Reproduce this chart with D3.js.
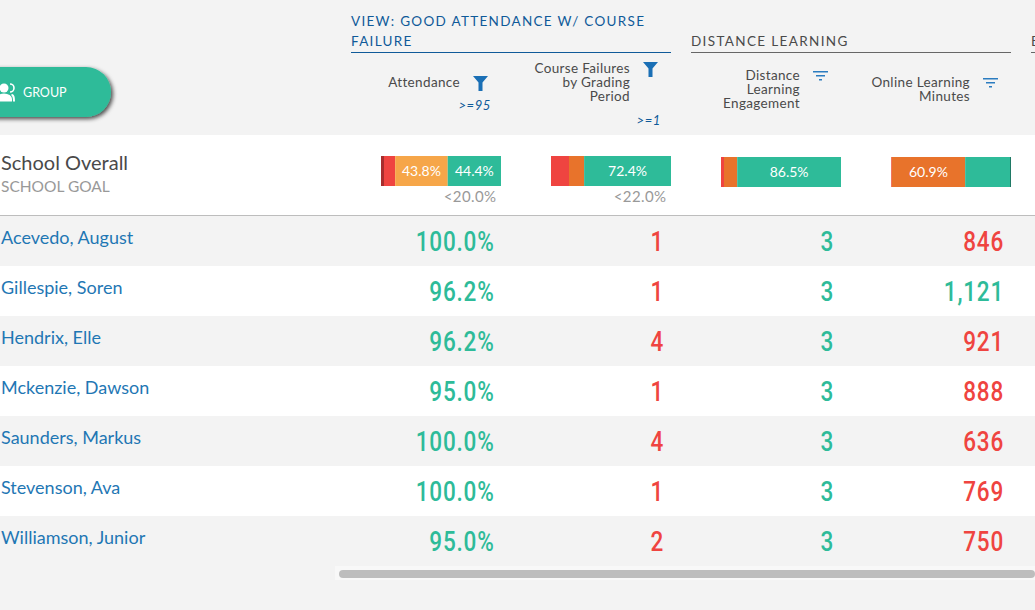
<!DOCTYPE html>
<html><head><meta charset="utf-8">
<script src="https://cdn.jsdelivr.net/npm/d3@7/dist/d3.min.js"></script>
<style>html,body{margin:0;padding:0;background:#f3f3f3;overflow:hidden}svg{display:block;font-family:Lato,sans-serif}</style>
</head><body><svg id="c" width="1035" height="610"></svg>
<script>
const students=["Acevedo, August","Gillespie, Soren","Hendrix, Elle","Mckenzie, Dawson","Saunders, Markus","Stevenson, Ava","Williamson, Junior"];
const attendance=["100.0%","96.2%","96.2%","95.0%","100.0%","100.0%","95.0%"];
const courseFailures=["1","1","4","1","4","1","2"];
const engagement=["3","3","3","3","3","3","3"];
const minutes=["846","1,121","921","888","636","769","750"];
const minutesGood=[false,true,false,false,false,false,false];
const failuresColor="#ef4440", goodColor="#2ebb99";
const attendanceShares=[2.5,9.3,43.8,44.4];
const failureShares=[15,12.6,72.4];
const engagementShares=[2.5,11,86.5];
const minutesShares=[0.6,61.2,37.4,0.8];
const attendanceColors=["#a82d2d","#ef4440","#f6a649","#2ebb99"];
const failureColors=["#ef4440","#e8732b","#2ebb99"];
const engagementColors=["#ef4440","#e8732b","#2ebb99"];
const minutesColors=["#ef4440","#e8732b","#2ebb99","#16745f"];
const barLabels=[[null,null,"43.8%","44.4%"],[null,null,"72.4%"],[null,null,"86.5%"],[null,"60.9%",null,null]];
const goals=["<20.0%","<22.0%"];

const svg=d3.select("#c");
const T=(g,x,y,s,o={})=>{const t=g.append("text").attr("x",x).attr("y",y).text(s)
  .attr("font-size",o.size||13).attr("fill",o.fill||"#4a4a4a").attr("text-anchor",o.anchor||"start");
  if(o.ls)t.attr("letter-spacing",o.ls); if(o.italic)t.attr("font-style","italic"); if(o.weight)t.attr("font-weight",o.weight); return t;};

const rowY=d3.scaleBand().domain(d3.range(students.length)).range([216,566]);
svg.append("rect").attr("x",0).attr("y",135).attr("width",1035).attr("height",80).attr("fill","#fff");
svg.append("rect").attr("x",0).attr("y",215).attr("width",1035).attr("height",1).attr("fill","#bdbdbd");
svg.selectAll("rect.row").data(d3.range(students.length)).join("rect").attr("class","row")
 .attr("x",0).attr("width",1035).attr("y",i=>rowY(i)).attr("height",rowY.bandwidth())
 .attr("fill",i=>i%2?"#fff":"#f3f3f3");

// column headers
const blue="#0f5a99";
T(svg,351,26,"VIEW: GOOD ATTENDANCE W/ COURSE",{size:13.5,fill:blue,ls:1.3});
T(svg,351,46,"FAILURE",{size:13.5,fill:blue,ls:1.3});
svg.append("rect").attr("x",351).attr("y",52).attr("width",320).attr("height",1).attr("fill",blue);
T(svg,691,46,"DISTANCE LEARNING",{size:13.5,fill:"#4a4a4a",ls:1.35});
svg.append("rect").attr("x",691).attr("y",52).attr("width",320).attr("height",1).attr("fill","#666");
T(svg,1031,46,"E",{size:13.5,fill:"#4a4a4a"});
svg.append("rect").attr("x",1031).attr("y",52).attr("width",4).attr("height",1).attr("fill","#666");

const headers=[
 {x:460,lines:["Attendance"],y:[87]},
 {x:630,lines:["Course Failures","by Grading","Period"],y:[73,87,101]},
 {x:800,lines:["Distance","Learning","Engagement"],y:[80,94,108]},
 {x:970,lines:["Online Learning","Minutes"],y:[87,101]}];
headers.forEach(h=>h.lines.forEach((l,i)=>T(svg,h.x,h.y[i],l,{size:13.5,anchor:"end",ls:0.35})));
T(svg,491,110,">=95",{size:13,anchor:"end",fill:blue,italic:true,ls:0.6});
T(svg,661,125,">=1",{size:13,anchor:"end",fill:blue,italic:true,ls:0.6});

// funnels
const funnel=(x,y)=>svg.append("path").attr("fill","#1a6fb5")
 .attr("d",d3.line()([[x,y],[x+15,y],[x+9.5,y+6.5],[x+9.5,y+15],[x+5.5,y+15],[x+5.5,y+6.5]])+"Z");
funnel(473,76);funnel(643,62);
const lines=(x,y)=>[[0,15],[3,9],[6,3]].forEach(([d,w],i)=>svg.append("rect").attr("x",x+d).attr("y",y+i*4).attr("width",w).attr("height",1.5).attr("fill","#2b7cc0"));
lines(813,71);lines(983,78);

// group button
const defs=svg.append("defs");
const f=defs.append("filter").attr("id","sh").attr("x","-20%").attr("y","-30%").attr("width","140%").attr("height","170%");
f.append("feDropShadow").attr("dx",2).attr("dy",2).attr("stdDeviation",2).attr("flood-color","#000").attr("flood-opacity",0.7);
svg.append("rect").attr("x",-40).attr("y",67).attr("width",151).attr("height",50).attr("rx",25).attr("fill",goodColor).attr("filter","url(#sh)");
svg.append("circle").attr("cx",4).attr("cy",88).attr("r",4.5).attr("fill","#fff");
svg.append("path").attr("fill","#fff").attr("d","M-4 101.5v-2.5a8 5.5 0 0 1 16 0V101.5Z");
svg.append("path").attr("fill","none").attr("stroke","#fff").attr("stroke-width",1.6).attr("d","M10 84a4 4 0 0 1 0 8");
svg.append("path").attr("fill","#fff").attr("d","M12 94c2.5 .5 3 3 3 7.5h-2c0-3-.3-5.5-2-6.5Z");
T(svg,23,96.5,"GROUP",{size:12.5,fill:"#fff"});

// overall
T(svg,1,170,"School Overall",{size:20,fill:"#4a4a4a"});
T(svg,1,192,"SCHOOL GOAL",{size:15.5,fill:"#999"});

const bx=d3.scaleLinear().domain([0,100]).range([0,120]);
const bars=[[381,156,attendanceShares,attendanceColors],[551,156,failureShares,failureColors],[721,157,engagementShares,engagementColors],[891,157,minutesShares,minutesColors]];
bars.forEach(([x0,y0,vals,cols],bi)=>{
  let c=0;
  vals.forEach((v,i)=>{
    svg.append("rect").attr("x",x0+bx(c)).attr("y",y0).attr("width",bx(v)).attr("height",30).attr("fill",cols[i]);
    const lab=barLabels[bi][i];
    if(lab)T(svg,x0+bx(c+v/2),y0+19.5,lab,{size:14,fill:"#fff",anchor:"middle"});
    c+=v;
  });
});
T(svg,496.5,202,goals[0],{size:15,fill:"#999",anchor:"end",ls:0.4});
T(svg,666.5,202,goals[1],{size:15,fill:"#999",anchor:"end",ls:0.4});

// rows
const nums=(x,y,s,fill)=>svg.append("text").attr("transform",`translate(${x},${y}) scale(0.79,1)`).attr("text-anchor","end")
  .attr("font-family","Roboto").attr("font-weight",500).attr("font-size",28.5).attr("fill",fill).attr("letter-spacing",1).text(s);
students.forEach((n,i)=>{
  const y=rowY(i);
  T(svg,1,y+28,n,{size:18,fill:"#1f77b4"});
  nums(494.5,y+35,attendance[i],goodColor);
  nums(664,y+35,courseFailures[i],failuresColor);
  nums(834,y+35,engagement[i],goodColor);
  nums(1004,y+35,minutes[i],minutesGood[i]?goodColor:failuresColor);
});

// scrollbar
svg.append("rect").attr("x",335).attr("y",566).attr("width",700).attr("height",14).attr("fill","#f8f8f8");
svg.append("rect").attr("x",339).attr("y",570).attr("width",696).attr("height",8).attr("rx",4).attr("fill","#bdbdbd");
</script></body></html>
